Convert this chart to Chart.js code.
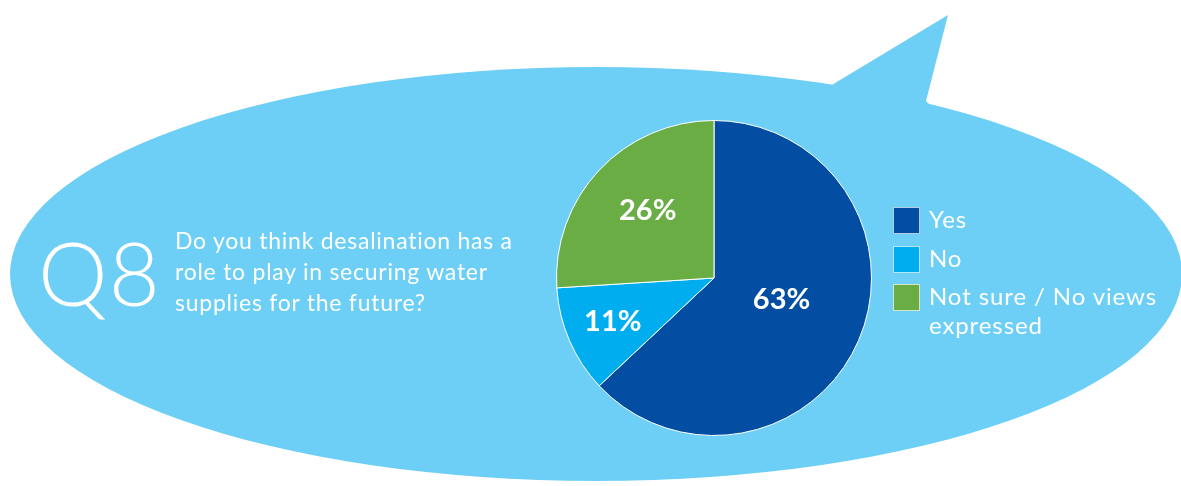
<!DOCTYPE html>
<html>
<head>
<meta charset="utf-8">
<script src="https://cdn.jsdelivr.net/npm/chart.js@4/dist/chart.umd.min.js"></script>
<style>
  body { margin: 0; background: #fff; font-family: Lato, "Open Sans", sans-serif; }
  #wrap { position: relative; width: 1181px; height: 486px; overflow: hidden; }
  #chart { position: absolute; left: 0; top: 0; }
  .txt { position: absolute; color: #fff; }
  #qnum { left: 38px; top: 228px; font-size: 88px; line-height: 88px; font-weight: 300; letter-spacing: 1px; }
  #question { left: 175px; top: 225px; font-size: 23px; line-height: 31px; font-weight: 400; letter-spacing: 0.75px; }
  .item { position: absolute; left: 893px; display: flex; align-items: flex-start; }
  .swatch { width: 25px; height: 25px; border: 1px solid rgba(255,255,255,0.7); }
  .label { margin-left: 9px; margin-top: -3px; font-size: 24px; line-height: 29px; color: #fff; letter-spacing: 0.9px; }
</style>
</head>
<body>
<div id="wrap">
  <canvas id="chart" width="1181" height="486"></canvas>
  <div class="txt" id="qnum">Q8</div>
  <div class="txt" id="question">Do you think desalination has a<br>role to play in securing water<br>supplies for the future?</div>
  <div id="legend"></div>
</div>
<script>
const categories = ['Yes', 'No', 'Not sure / No views expressed'];
const legendLines = [['Yes'], ['No'], ['Not sure / No views', 'expressed']];
const percentages = [63, 11, 26];
const sliceColors = ['#034ea2', '#00aeef', '#6aad45'];

// speech bubble behind everything
const bubble = {
    id: 'bubble',
    beforeDraw(chart) {
        const ctx = chart.ctx;
        ctx.save();
        ctx.fillStyle = '#6dcff6';
        ctx.beginPath();
        ctx.ellipse(596, 274, 586, 207, 0, 0, Math.PI * 2);
        ctx.fill();
        ctx.beginPath();
        ctx.moveTo(820, 95);
        ctx.lineTo(835, 83);
        ctx.lineTo(948, 15);
        ctx.lineTo(926, 101);
        ctx.lineTo(935, 110);
        ctx.closePath();
        ctx.fill();
        ctx.restore();
    }
};

// percent labels inside slices
const sliceLabels = {
    id: 'sliceLabels',
    afterDatasetsDraw(chart, args, opts) {
        const ctx = chart.ctx;
        const meta = chart.getDatasetMeta(0);
        ctx.save();
        ctx.fillStyle = '#fff';
        ctx.font = '700 29px Lato, "Open Sans", sans-serif';
        ctx.textAlign = 'center';
        ctx.textBaseline = 'middle';
        meta.data.forEach((arc, i) => {
            const mid = (arc.startAngle + arc.endAngle) / 2 + opts.shift[i];
            const r = arc.outerRadius * opts.radius[i];
            ctx.fillText(percentages[i] + '%', arc.x + Math.cos(mid) * r, arc.y + Math.sin(mid) * r);
        });
        ctx.restore();
    }
};

new Chart(document.getElementById('chart'), {
    type: 'pie',
    data: {
        labels: categories,
        datasets: [{
            data: percentages,
            backgroundColor: sliceColors,
            borderColor: '#ffffff',
            borderWidth: 1
        }]
    },
    options: {
        responsive: false,
        animation: false,
        layout: { padding: { left: 556, right: 309, top: 120, bottom: 50 } },
        plugins: {
            legend: { display: false },
            tooltip: { enabled: false },
            sliceLabels: { radius: [0.45, 0.7, 0.6], shift: [-0.1, 0, 0.04] }
        }
    },
    plugins: [bubble, sliceLabels]
});

const legend = document.getElementById('legend');
const itemTops = [207, 246, 284];
categories.forEach((name, i) => {
    const item = document.createElement('div');
    item.className = 'item';
    item.style.top = itemTops[i] + 'px';
    const sw = document.createElement('div');
    sw.className = 'swatch';
    sw.style.background = sliceColors[i];
    const lab = document.createElement('div');
    lab.className = 'label';
    lab.innerHTML = legendLines[i].join('<br>');
    item.appendChild(sw);
    item.appendChild(lab);
    legend.appendChild(item);
});
</script>
</body>
</html>
